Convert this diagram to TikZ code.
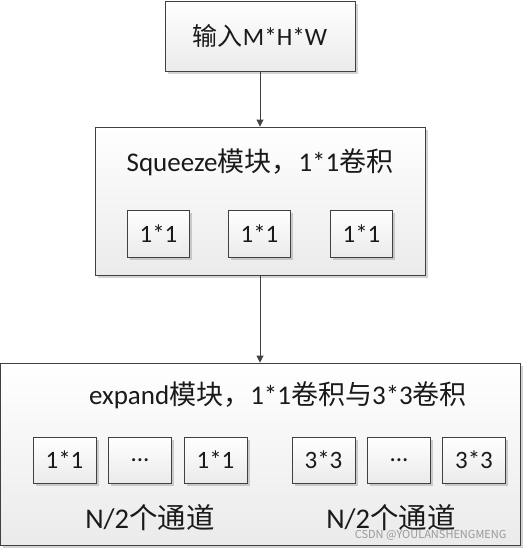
\documentclass[tikz,border=0pt]{standalone}
\usepackage{fontspec}
\setmainfont{Carlito}
\newfontfamily\cjk{Noto Sans CJK SC}
\usetikzlibrary{arrows.meta,positioning,shadows}
\definecolor{edge}{HTML}{404040}
\definecolor{ink}{HTML}{1A1A1A}
\newcommand\threedots{...}

\tikzset{
  block/.style={draw=edge,line width=0.9pt,top color=white,bottom color=black!8,
    drop shadow={shadow xshift=2.5pt,shadow yshift=-2.5pt,opacity=0.35},
    inner sep=0pt,text=ink},
  cell/.style={block,minimum width=62pt,minimum height=47pt,
    font=\fontsize{25}{28}\selectfont},
  flow/.style={edge,line width=0.9pt,-{Triangle[length=7pt,width=7pt]}}
}

\begin{document}
\begin{tikzpicture}[x=1pt,y=1pt]
\useasboundingbox (0,0) rectangle (523,-549);
% input
\node[block,minimum width=190pt,minimum height=70pt,font=\fontsize{25}{28}\selectfont]
  (in) at (260,-36) {{\cjk 输入}M*H*W};
% squeeze module
\node[block,minimum width=330pt,minimum height=148pt] (squeeze) at (260,-201) {};
\node[font=\fontsize{27}{30}\selectfont,text=ink] (sqtitle) at (260,-162)
  {Squeeze{\cjk 模块，}1*1{\cjk 卷积}};
\foreach \x/\idx in {158.5/1,259.5/2,361.5/3}{
  \node[cell] (s\idx) at (\x,-233.5) {1*1};
}
% expand module
\node[block,minimum width=520pt,minimum height=182pt] (expand) at (260,-454) {};
\node[font=\fontsize{27}{30}\selectfont,text=ink] (extitle) at (278,-395)
  {expand{\cjk 模块，}1*1{\cjk 卷积与}3*3{\cjk 卷积}};
\foreach \x/\idx/\txt in {64.5/1/1*1,140/2/\threedots,215.5/3/1*1,323.5/4/3*3,399/5/\threedots,474/6/3*3}{
  \node[cell,minimum width=63pt,minimum height=46pt] (e\idx) at (\x,-460) {\txt};
}
\node[font=\fontsize{28.5}{32}\selectfont,text=ink] (n1) at (150,-518) {N/2{\cjk 个通道}};
\node[font=\fontsize{28.5}{32}\selectfont,text=ink] (n2) at (391,-518) {N/2{\cjk 个通道}};
\node[font=\fontsize{11}{13}\selectfont\cjk,text=black!40,anchor=east] (mark) at (510,-535)
  {CSDN @YOULANSHENGMENG};
% arrows
\draw[flow] (in) -- (squeeze);
\draw[flow] (squeeze) -- (expand);
\end{tikzpicture}
\end{document}
